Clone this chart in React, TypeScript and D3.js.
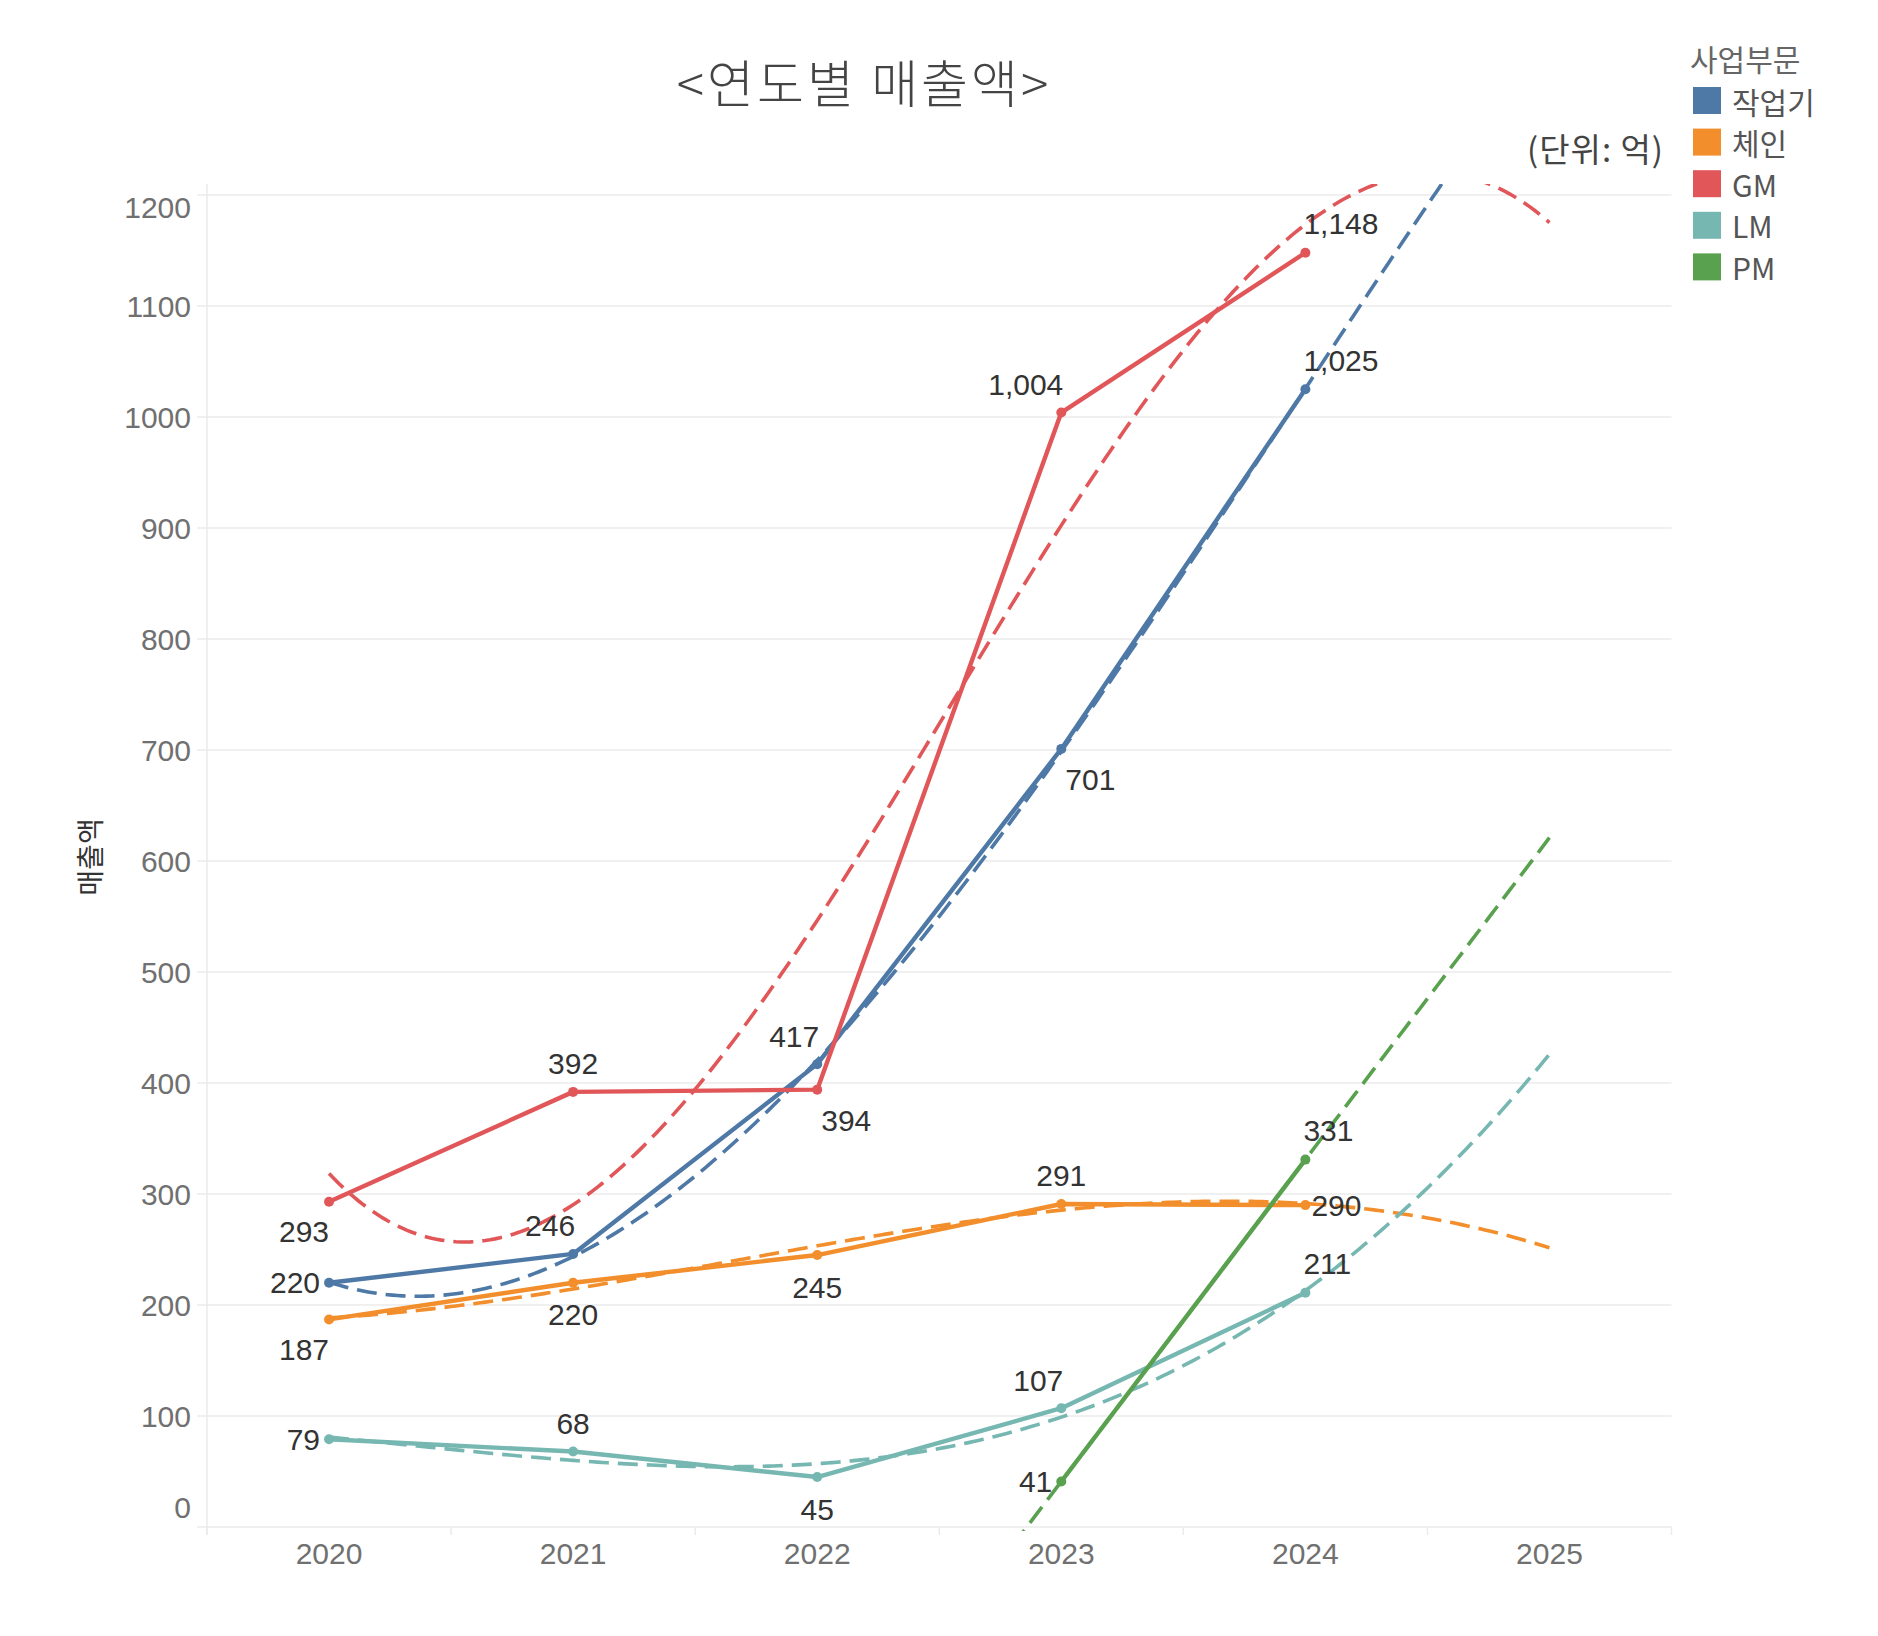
import React from "react";
import * as d3 from "d3";

// ---------- data ----------
const years = [2020, 2021, 2022, 2023, 2024];
const seriesNames = ["작업기", "체인", "GM", "LM", "PM"];
const workValues = [220, 246, 417, 701, 1025];
const chainValues = [187, 220, 245, 291, 290];
const gmValues = [293, 392, 394, 1004, 1148];
const lmValues = [79, 68, 45, 107, 211];
const pmValues = [null, null, null, 41, 331];
const yTicks = [0, 100, 200, 300, 400, 500, 600, 700, 800, 900, 1000, 1100, 1200];
const xTickLabels = [2020, 2021, 2022, 2023, 2024, 2025];
const trendEndYear = 2025;

// ---------- style ----------
const colors = ["#4e79a7", "#f28e2b", "#e15759", "#76b7b2", "#59a14f"];
const labelPlacement = [
  ["left", "above-left", "above-left", "below-right", "above-right"],
  ["below-left", "below", "below", "above", "right"],
  ["below-left", "above", "below-right", "above-left", "above-right"],
  ["left", "above", "below", "above-left", "above-right"],
  [null, null, null, "left", "above-right"],
];

const W = 1878;
const H = 1636;
const LATIN = "'Liberation Sans', Arial, 'Noto Sans CJK KR', sans-serif";
const KR = "'Noto Sans CJK KR', 'Noto Sans', sans-serif";

function polyfit(xs: number[], ys: number[], deg: number): number[] {
  const n = deg + 1;
  const A: number[][] = [];
  for (let i = 0; i < n; i++) {
    A.push(new Array(n + 1).fill(0));
    for (let j = 0; j < n; j++) {
      A[i][j] = d3.sum(xs, (x) => Math.pow(x, i + j));
    }
    A[i][n] = d3.sum(xs.map((x, k) => Math.pow(x, i) * ys[k]));
  }
  for (let c = 0; c < n; c++) {
    let p = c;
    for (let r = c + 1; r < n; r++) if (Math.abs(A[r][c]) > Math.abs(A[p][c])) p = r;
    [A[c], A[p]] = [A[p], A[c]];
    for (let r = 0; r < n; r++) {
      if (r === c) continue;
      const f = A[r][c] / A[c][c];
      for (let k = c; k <= n; k++) A[r][k] -= f * A[c][k];
    }
  }
  return A.map((row, i) => row[n] / row[i]);
}

export default function App() {
  const x = d3.scaleLinear().domain([2019.5, 2025.5]).range([207, 1671.5]);
  const y = d3.scaleLinear().domain([0, 1200]).range([1527, 195]);

  const allValues = [workValues, chainValues, gmValues, lmValues, pmValues];
  const series = allValues.map((vals, si) => {
    const pts = years
      .map((yr, i) => ({ yr, v: vals[i] as number | null, place: labelPlacement[si][i] }))
      .filter((p) => p.v !== null) as { yr: number; v: number; place: string | null }[];
    const xs = pts.map((p) => p.yr - 2020);
    const ys = pts.map((p) => p.v);
    const deg = Math.min(3, pts.length - 1);
    const coef = polyfit(xs, ys, deg);
    const trendYears = d3.range(2020, trendEndYear + 0.0001, 0.02);
    const trend = trendYears.map((t) => {
      const u = t - 2020;
      return { yr: t, v: coef.reduce((s, c, k) => s + c * Math.pow(u, k), 0) };
    });
    return { name: seriesNames[si], color: colors[si], pts, trend };
  });

  const line = d3
    .line<{ yr: number; v: number }>()
    .x((d) => x(d.yr))
    .y((d) => y(d.v));

  const fmt = d3.format(",");

  const labelAttrs = (place: string, px: number, py: number) => {
    switch (place) {
      case "left":
        return { x: px - 9, y: py, anchor: "end" };
      case "right":
        return { x: px + 6, y: py, anchor: "start" };
      case "above":
        return { x: px, y: py - 28, anchor: "middle" };
      case "below":
        return { x: px, y: py + 32, anchor: "middle" };
      case "above-left":
        return { x: px + 2, y: py - 28, anchor: "end" };
      case "above-right":
        return { x: px - 2, y: py - 29, anchor: "start" };
      case "below-left":
        return { x: px, y: py + 30, anchor: "end" };
      case "below-right":
        return { x: px + 4, y: py + 31, anchor: "start" };
      default:
        return { x: px, y: py, anchor: "middle" };
    }
  };

  const gridColor = "#ebebeb";
  const boundaries = d3.range(2019.5, 2025.51, 1);

  return (
    <svg
      width={W}
      height={H}
      viewBox={`0 0 ${W} ${H}`}
      style={{ position: "absolute", left: 0, top: 0, background: "#fff" }}
    >
      <defs>
        <clipPath id="pane">
          <rect x={207} y={184} width={1671.5 - 207} height={1531 - 184} />
        </clipPath>
      </defs>

      {/* title */}
      <text
        x={864}
        y={81}
        textAnchor="middle"
        dominantBaseline="central"
        fontFamily={KR}
        fontSize={51}
        fontWeight={300}
        fill="#444"
        letterSpacing={3}
      >
        {"<연도별 매출액>"}
      </text>

      {/* unit */}
      <text
        x={1664}
        y={148}
        textAnchor="end"
        dominantBaseline="central"
        fontFamily={KR}
        fontSize={33}
        fill="#444"
        letterSpacing={1}
      >
        (단위: 억)
      </text>

      {/* gridlines */}
      {yTicks.map((t) => (
        <line
          key={"g" + t}
          x1={197}
          x2={1671.5}
          y1={y(t)}
          y2={y(t)}
          stroke={gridColor}
          strokeWidth={1.5}
        />
      ))}
      <line x1={207} x2={207} y1={184} y2={1535} stroke={gridColor} strokeWidth={1.5} />
      {boundaries.map((b) => (
        <line
          key={"tk" + b}
          x1={x(b)}
          x2={x(b)}
          y1={1527}
          y2={1535}
          stroke={gridColor}
          strokeWidth={1.5}
        />
      ))}

      {/* y tick labels */}
      {yTicks.map((t) => (
        <text
          key={"yl" + t}
          x={191}
          y={t === 0 ? y(t) - 20 : t === 1200 ? y(t) + 12 : y(t)}
          textAnchor="end"
          dominantBaseline="central"
          fontFamily={LATIN}
          fontSize={30}
          fill="#707070"
        >
          {t}
        </text>
      ))}

      {/* x tick labels */}
      {xTickLabels.map((t) => (
        <text
          key={"xl" + t}
          x={x(t)}
          y={1553}
          textAnchor="middle"
          dominantBaseline="central"
          fontFamily={LATIN}
          fontSize={30}
          fill="#707070"
        >
          {t}
        </text>
      ))}

      {/* y axis title */}
      <text
        transform={`translate(89,857) rotate(-90)`}
        textAnchor="middle"
        dominantBaseline="central"
        fontFamily={KR}
        fontSize={28}
        fontWeight={400}
        fill="#333"
      >
        매출액
      </text>

      {/* trend lines */}
      <g clipPath="url(#pane)">
        {series.map((s) => (
          <path
            key={"tr" + s.name}
            d={line(s.trend) || ""}
            fill="none"
            stroke={s.color}
            strokeWidth={3.6}
            strokeDasharray="20 9"
          />
        ))}
      </g>

      {/* data lines */}
      {series.map((s) => (
        <path
          key={"ln" + s.name}
          d={line(s.pts) || ""}
          fill="none"
          stroke={s.color}
          strokeWidth={4.4}
          strokeLinejoin="round"
        />
      ))}

      {/* markers */}
      {series.map((s) =>
        s.pts.map((p) => (
          <circle
            key={"m" + s.name + p.yr}
            cx={x(p.yr)}
            cy={y(p.v)}
            r={5}
            fill={s.color}
          />
        ))
      )}

      {/* labels */}
      {series.map((s) =>
        s.pts.map((p) => {
          const a = labelAttrs(p.place || "", x(p.yr), y(p.v));
          return (
            <text
              key={"lb" + s.name + p.yr}
              x={a.x}
              y={a.y}
              textAnchor={a.anchor as any}
              dominantBaseline="central"
              fontFamily={LATIN}
              fontSize={30}
              fill="#333"
            >
              {fmt(p.v)}
            </text>
          );
        })
      )}

      {/* legend */}
      <text
        x={1690}
        y={58}
        dominantBaseline="central"
        fontFamily={KR}
        fontSize={30}
        fill="#666"
      >
        사업부문
      </text>
      {series.map((s, i) => (
        <g key={"lg" + s.name} transform={`translate(1693, ${100.5 + i * 41.6})`}>
          <rect x={0} y={-13.5} width={28} height={27} fill={s.color} />
          <text
            x={39}
            y={0}
            dominantBaseline="central"
            fontFamily={KR}
            fontSize={30}
            fill="#555"
          >
            {s.name}
          </text>
        </g>
      ))}
    </svg>
  );
}
